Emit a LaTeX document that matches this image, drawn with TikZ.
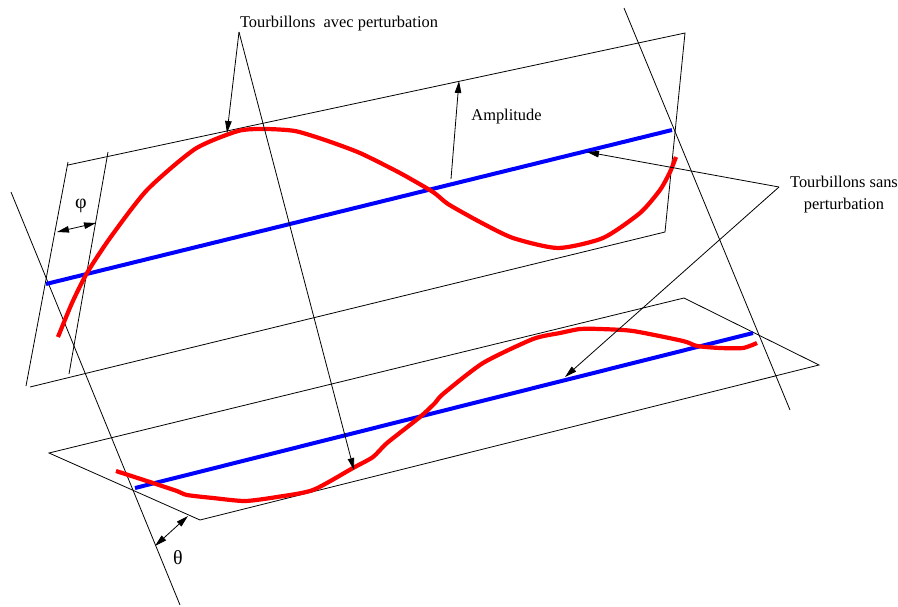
\documentclass[tikz,border=0pt]{standalone}
\usepackage{fontspec}
\setmainfont{Liberation Serif}
\usetikzlibrary{arrows.meta}
\tikzset{
	trait/.style={black, line width=0.8pt},
	fleche/.style={trait, ->},
	doublefleche/.style={trait, <->},
	tourbillon/.style={line width=4pt, blue},
	perturbe/.style={line width=4.2pt, red, line join=round},
	legende/.style={font=\fontsize{16.4}{22}\selectfont, inner sep=0pt, align=center},
	angle/.style={font=\fontsize{20}{22}\selectfont, inner sep=0pt}
}
\begin{document}
\begin{tikzpicture}[x=1pt, y=-1pt, >={Stealth[inset=0pt, length=12pt, width=6.5pt]}]
	\useasboundingbox (0,0) rectangle (898,606);

	% plans
	\draw[trait] (68,165) -- (685,33) -- (665,232) -- (30,387);
	\draw[trait] (68,162) -- (26,386);
	\draw[trait] (108,152) -- (69,374);
	\draw[trait] (49,453) -- (684,298) -- (819,365) -- (200,520) -- cycle;

	% axes
	\draw[trait] (11,192) -- (180,605);
	\draw[trait] (624,8) -- (790,410);

	% tourbillons
	\draw[tourbillon] (46,284) -- (672,130);
	\draw[tourbillon] (135,488) -- (753,333);
	\draw[perturbe] plot[smooth, tension=0.4] coordinates {(58,337) (72,303) (87,273) (110,238) (147,190) (195,149) (238,131) (265,129) (295,131) (325,140) (360,153) (400,173) (433,192) (448,204) (480,222) (513,238) (558,248) (603,238) (640,213) (660,190) (670,172) (676,157)};
	\draw[perturbe] plot[smooth, tension=0.4] coordinates {(116,471) (153,483) (177,491) (187,495) (213,498) (245,501) (277,497) (313,490) (353,468) (373,457) (387,443) (420,417) (435,403) (443,394) (483,363) (533,339) (560,333) (580,329) (600,329) (633,331) (683,341) (697,346) (720,348) (743,348) (757,343)};

	% legendes
	\node[legende] (avec) at (339,24) {Tourbillons\ \ avec perturbation};
	\node[legende] (sans) at (844,195) {Tourbillons sans\\perturbation};
	\node[legende] (ampl) at (506.5,117) {Amplitude};
	\node[angle] (phi) at (81,206) {φ};
	\node[angle] (theta) at (178,558) {θ};

	% fleches
	\coordinate (avecP) at (239,32);
	\coordinate (avecH) at (227,133);
	\coordinate (avecB) at (354,470);
	\coordinate (sansP) at (779,187);
	\coordinate (sansH) at (587,152);
	\coordinate (sansB) at (565,377);
	\coordinate (amplA) at (451,179);
	\coordinate (amplB) at (459,81);
	\coordinate (phiA) at (57,232);
	\coordinate (phiB) at (96,223);
	\coordinate (thetaA) at (155,546);
	\coordinate (thetaB) at (188,516);
	\draw[fleche] (avecP) -- (avecH);
	\draw[fleche] (avecP) -- (avecB);
	\draw[fleche] (sansP) -- (sansH);
	\draw[fleche] (sansP) -- (sansB);
	\draw[fleche] (amplA) -- (amplB);
	\draw[doublefleche] (phiA) -- (phiB);
	\draw[doublefleche] (thetaA) -- (thetaB);
\end{tikzpicture}
\end{document}
